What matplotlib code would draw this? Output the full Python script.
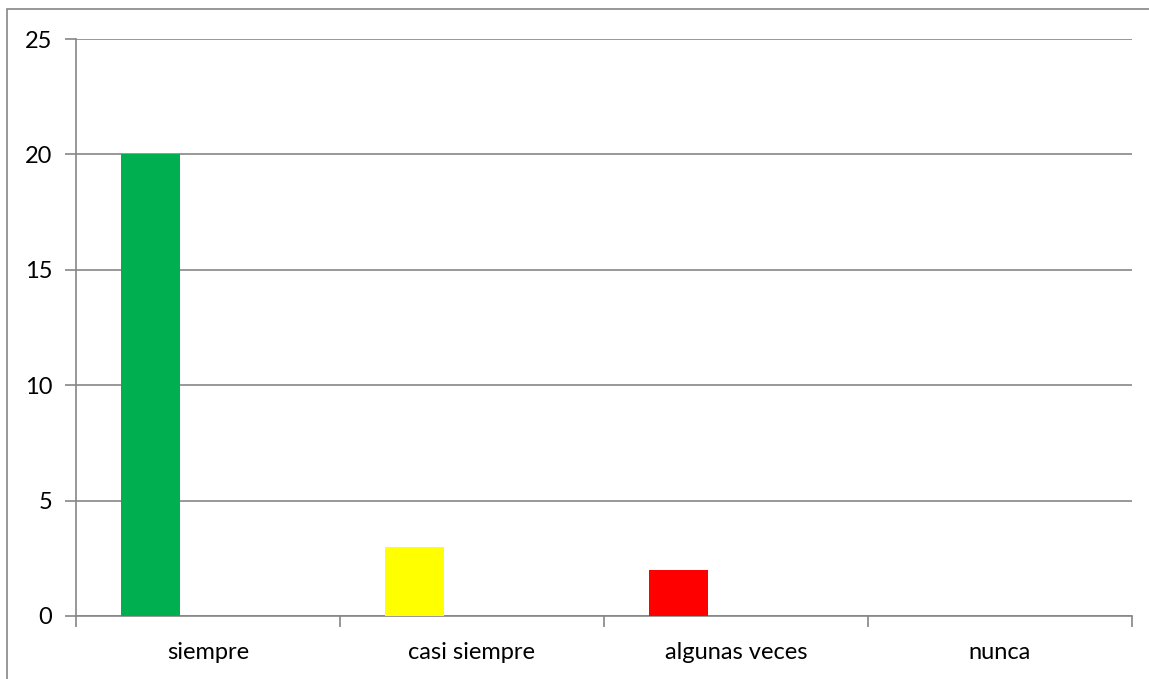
import numpy as np
import matplotlib.pyplot as plt
from matplotlib.patches import Rectangle

# data
categories = ["siempre", "casi siempre", "algunas veces", "nunca"]
values = [20, 3, 2, 0]
colors = ["#00B050", "#FFFF00", "#FF0000", "#4F81BD"]
yticks = [0, 5, 10, 15, 20, 25]

plt.rcParams['font.family'] = ['Lato', 'DejaVu Sans']

fig = plt.figure(figsize=(11.49, 6.79), dpi=100)
ax = fig.add_axes([76 / 1149, 1 - 616 / 679, (1132 - 76) / 1149, (616 - 39) / 679])

grey = "#868686"
x = np.arange(len(categories))
# bars sit in the first slot of a three-slot cluster
width = 0.223
offset = -0.217
ax.bar(x + offset, values, width=width, color=colors, zorder=3)

ax.set_xlim(-0.5, len(categories) - 0.5)
ax.set_ylim(0, 25)
ax.set_yticks(yticks)
ax.yaxis.grid(True, color=grey, linewidth=1.2, zorder=0)

ax.set_xticks(x)
ax.set_xticklabels(categories, fontsize=17)
ax.set_xticks(np.arange(-0.5, len(categories)), minor=True)
ax.tick_params(axis='x', which='major', length=0, pad=19)
ax.tick_params(axis='x', which='minor', length=8, color=grey, width=1.2)
ax.tick_params(axis='y', length=8, color=grey, width=1.2, labelsize=17, pad=9)

for side in ['top', 'right']:
    ax.spines[side].set_visible(False)
for side in ['left', 'bottom']:
    ax.spines[side].set_color(grey)
    ax.spines[side].set_linewidth(1.2)

# outer chart border
fig.patches.append(Rectangle((7 / 1149, -0.05), 1.2, 1 - 9 / 679 + 0.05,
                             transform=fig.transFigure, fill=False,
                             edgecolor=grey, linewidth=1.2))

fig.savefig("out.png", dpi=100)
